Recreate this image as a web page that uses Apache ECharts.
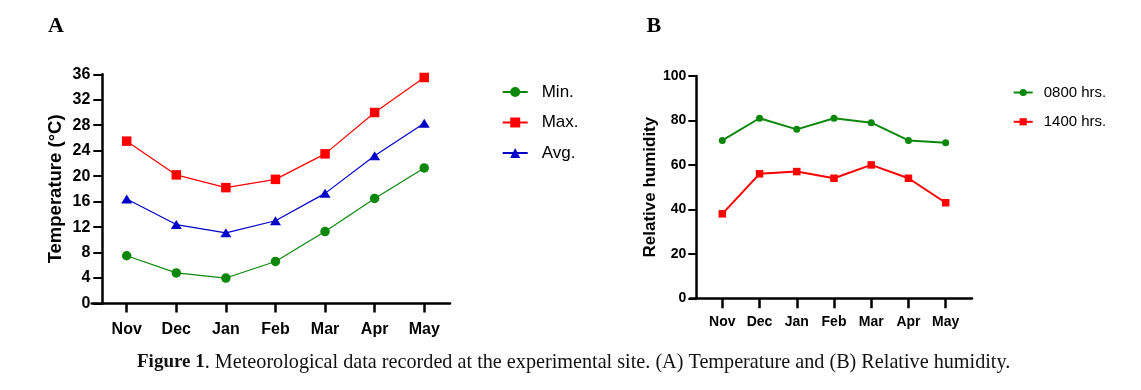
<!DOCTYPE html>
<html><head><meta charset="utf-8">
<script src="https://cdn.jsdelivr.net/npm/echarts@6/dist/echarts.min.js"></script>
<style>html,body{margin:0;padding:0;background:#fff}#c{width:1141px;height:390px}</style>
</head><body><div id="c"></div>
<script>
const months = ['Nov','Dec','Jan','Feb','Mar','Apr','May'];
const tempMin = [7.5, 4.8, 4.0, 6.6, 11.3, 16.5, 21.3];
const tempMax = [25.5, 20.2, 18.2, 19.5, 23.5, 30.0, 35.5];
const tempAvg = [16.4, 12.4, 11.1, 13.0, 17.3, 23.2, 28.3];
const rh0800 = [71, 81, 76, 81, 79, 71, 70];
const rh1400 = [38, 56, 57, 54, 60, 54, 43];
const tempTicks = [0, 4, 8, 12, 16, 20, 24, 28, 32, 36];
const rhTicks = [0, 20, 40, 60, 80, 100];

const idx = months.map((_, i) => i);
const pts = arr => arr.map((v, i) => [i, v]);
const SANS = '"Liberation Sans", Arial, sans-serif';
const SERIF = '"Liberation Serif", "Times New Roman", serif';
const GREEN = '#0b880b', RED = '#ff0000', BLUE = '#0000c8';

function xAxisCfg(gridIndex, min, max, fs, tickLen, margin) {
  return {
    type: 'value', gridIndex, min, max,
    axisLine: { onZero: false, lineStyle: { color: '#000', width: 2.5 } },
    axisTick: { show: true, customValues: idx, length: tickLen, lineStyle: { color: '#000', width: 2.5 } },
    axisLabel: { customValues: idx, formatter: v => months[Math.round(v)], margin,
      color: '#000', fontFamily: SANS, fontWeight: 'bold', fontSize: fs },
    splitLine: { show: false }
  };
}
function yAxisCfg(gridIndex, ticks, name, offset, fs, nfs, tickLen, margin, gap) {
  return {
    type: 'value', gridIndex, min: ticks[0], max: ticks[ticks.length - 1],
    interval: ticks[1] - ticks[0], offset,
    name, nameLocation: 'middle', nameGap: gap,
    nameTextStyle: { color: '#000', fontFamily: SANS, fontWeight: 'bold', fontSize: nfs },
    axisLine: { show: true, onZero: false, lineStyle: { color: '#000', width: 2.5 } },
    axisTick: { show: true, length: tickLen, lineStyle: { color: '#000', width: 2 } },
    axisLabel: { margin, color: '#000', fontFamily: SANS, fontWeight: 'bold', fontSize: fs },
    splitLine: { show: false }
  };
}

const chart = echarts.init(document.getElementById('c'), null, { renderer: 'canvas' });
chart.setOption({
  animation: false,
  backgroundColor: '#fff',
  title: [
    { text: 'A', left: 43, top: 10, textStyle: { fontFamily: SERIF, fontWeight: 'bold', fontSize: 22, color: '#000' } },
    { text: 'B', left: 641.5, top: 10.5, textStyle: { fontFamily: SERIF, fontWeight: 'bold', fontSize: 22, color: '#000' } },
    { text: '{b|Figure 1}{r|. Meteorological data recorded at the experimental site. (A) Temperature and (B) Relative humidity.}',
      left: 132, top: 347.5,
      textStyle: { fontWeight: 'normal', rich: {
        b: { fontFamily: SERIF, fontWeight: 'bold', fontSize: 19, color: '#111' },
        r: { fontFamily: SERIF, fontWeight: 'normal', fontSize: 20.2, color: '#111' } } } }
  ],
  legend: [
    { data: ['Min.', 'Max.', 'Avg.'], orient: 'vertical', left: 496.7, top: 77,
      itemWidth: 25, itemHeight: 12.5, itemGap: 10.5,
      textStyle: { fontFamily: SANS, fontSize: 17, color: '#000', lineHeight: 20, padding: [0, 0, 0, 9] } },
    { data: ['0800 hrs.', '1400 hrs.'], orient: 'vertical', left: 1007.7, top: 78.5,
      itemWidth: 19, itemHeight: 9, itemGap: 11.3,
      textStyle: { fontFamily: SANS, fontSize: 15, color: '#000', lineHeight: 18, padding: [0, 0, 0, 6] } }
  ],
  grid: [
    { left: 91.7, top: 74.3, width: 358.3, height: 229.2, containLabel: false, outerBoundsMode: 'none' },
    { left: 690, top: 76, width: 282, height: 222.3, containLabel: false, outerBoundsMode: 'none' }
  ],
  xAxis: [
    xAxisCfg(0, -0.706, 6.52, 16, 9, 18),
    xAxisCfg(1, -0.868, 6.707, 14, 10, 17)
  ],
  yAxis: [
    yAxisCfg(0, tempTicks, 'Temperature (°C)', -10.6, 16, 18.5, 9, 12, 37),
    yAxisCfg(1, rhTicks, 'Relative humidity', -6.3, 14, 17, 8, 10, 36)
  ],
  series: [
    { name: 'Min.', type: 'line', xAxisIndex: 0, yAxisIndex: 0, data: pts(tempMin),
      symbol: 'circle', symbolSize: 9.5, color: GREEN, lineStyle: { width: 1.2, color: GREEN } },
    { name: 'Max.', type: 'line', xAxisIndex: 0, yAxisIndex: 0, data: pts(tempMax),
      symbol: 'rect', symbolSize: 9.5, color: RED, lineStyle: { width: 1.2, color: RED } },
    { name: 'Avg.', type: 'line', xAxisIndex: 0, yAxisIndex: 0, data: pts(tempAvg),
      symbol: 'triangle', symbolSize: [11, 9], color: BLUE, lineStyle: { width: 1.2, color: BLUE } },
    { name: '0800 hrs.', type: 'line', xAxisIndex: 1, yAxisIndex: 1, data: pts(rh0800),
      symbol: 'circle', symbolSize: 7, color: GREEN, lineStyle: { width: 2, color: GREEN } },
    { name: '1400 hrs.', type: 'line', xAxisIndex: 1, yAxisIndex: 1, data: pts(rh1400),
      symbol: 'rect', symbolSize: 7.5, color: RED, lineStyle: { width: 2, color: RED } }
  ]
});
</script></body></html>
